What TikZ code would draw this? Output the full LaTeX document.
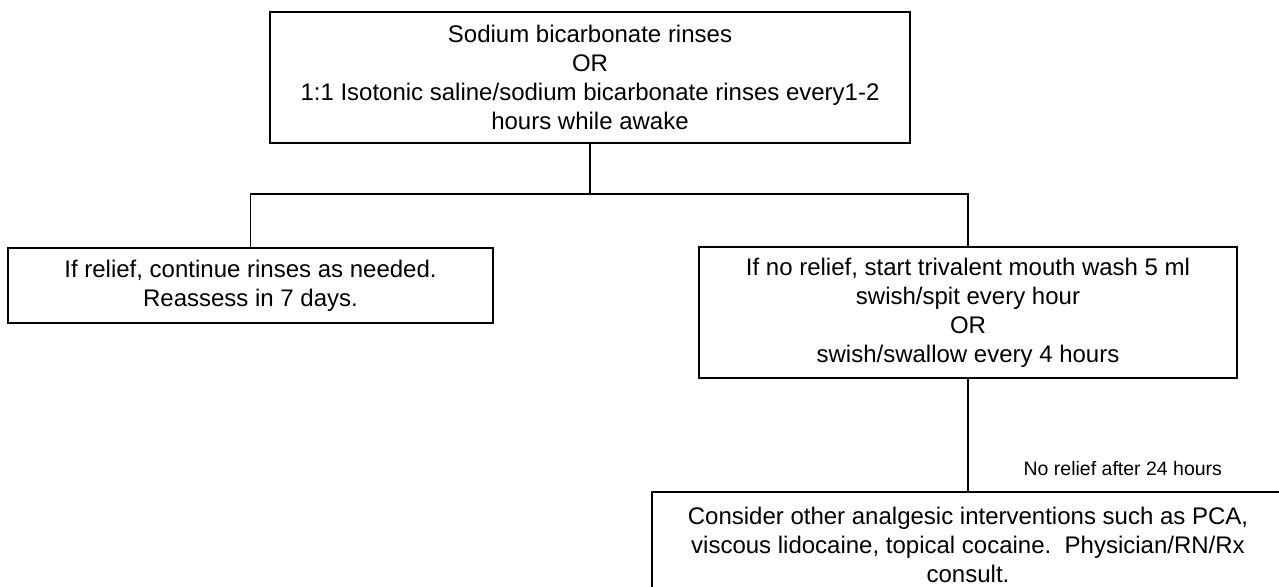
\documentclass[tikz,border=0pt]{standalone}
\usepackage{fontspec}
\setmainfont{Liberation Sans}
\begin{document}
\frenchspacing
\begin{tikzpicture}[x=1pt,y=-1pt,
  box/.style={draw=black, line width=1.3pt, rectangle, align=center,
    inner sep=0pt, font=\fontsize{24}{29}\selectfont},
  link/.style={draw=black, line width=1.3pt},
  lbl/.style={font=\fontsize{19.5}{23}\selectfont, inner sep=0pt, anchor=west}]
\useasboundingbox (0,0) rectangle (1279,586);
\clip (0,0) rectangle (1279,586);

% treatment steps
\node[box, minimum width=640, minimum height=131] (rinse) at (590,77.5)
  {Sodium bicarbonate rinses\\OR\\1:1 Isotonic saline/sodium bicarbonate rinses every1-2\\hours while awake};
\node[box, minimum width=485, minimum height=75] (relief) at (250.5,285.5)
  {If relief, continue rinses as needed.\\Reassess in 7 days.};
\node[box, minimum width=538, minimum height=131] (trival) at (968,312.5)
  {If no relief, start trivalent mouth wash 5 ml\\swish/spit every hour\\OR\\swish/swallow every 4 hours};
\node[box, minimum width=632, minimum height=105] (consult) at (968,544.5)
  {Consider other analgesic interventions such as PCA,\\viscous lidocaine, topical cocaine.\ \ Physician/RN/Rx\\consult.};

% branching connectors
\coordinate (split) at (590,194);
\draw[link] (rinse.south) -- (split);
\draw[link] (relief.north) |- (split) -| (trival.north);
\draw[link] (trival.south) -- node[lbl, pos=0.8, xshift=55pt] (after) {No relief after 24 hours} (consult.north);
\end{tikzpicture}
\end{document}
